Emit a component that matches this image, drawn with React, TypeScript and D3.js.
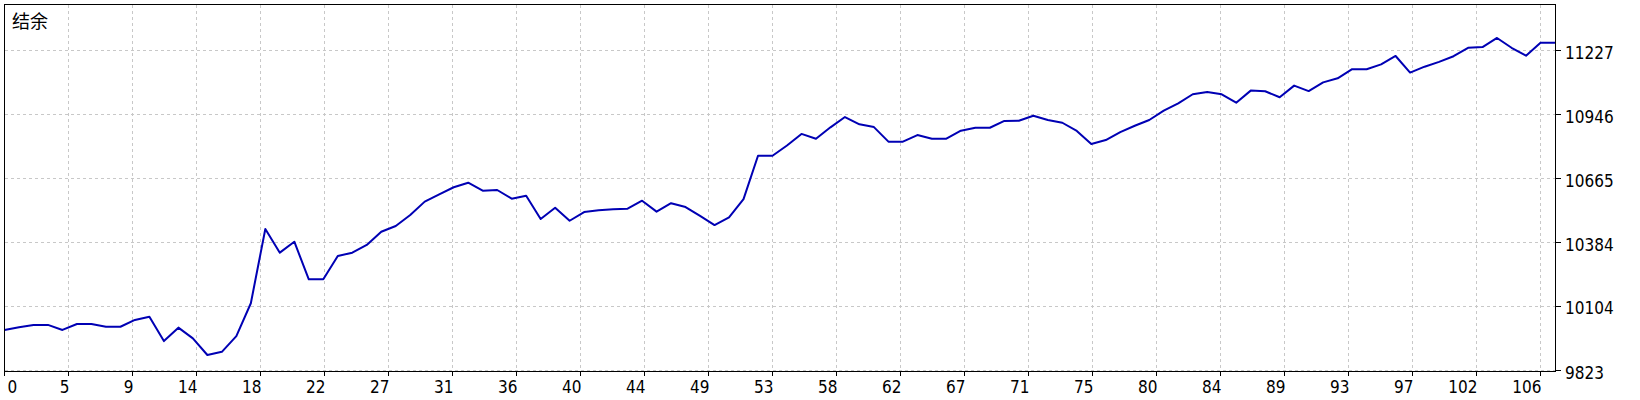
import React from "react";
import * as d3 from "d3";

// balance curve, one value per trade
const balance = [
  10001, 10013, 10023, 10023, 10001, 10027, 10027, 10015, 10015, 10045,
  10059, 9952, 10011, 9964, 9891, 9905, 9974, 10118, 10444, 10340,
  10388, 10223, 10223, 10325, 10340, 10374, 10432, 10457, 10505, 10564,
  10596, 10627, 10647, 10612, 10615, 10577, 10590, 10488, 10537, 10480,
  10518, 10526, 10530, 10533, 10568, 10520, 10557, 10540, 10501, 10461,
  10495, 10575, 10765, 10765, 10810, 10861, 10840, 10890, 10935, 10903,
  10891, 10827, 10827, 10856, 10840, 10840, 10875, 10888, 10888, 10918,
  10919, 10941, 10922, 10910, 10874, 10817, 10834, 10869, 10897, 10922,
  10963, 10995, 11035, 11045, 11035, 10998, 11051, 11048, 11022, 11073,
  11049, 11087, 11105, 11145, 11145, 11166, 11203, 11130, 11156, 11177,
  11202, 11239, 11242, 11282, 11239, 11204, 11261, 11261,
];

const xLabels = [0, 5, 9, 14, 18, 22, 27, 31, 36, 40, 44, 49, 53, 58, 62, 67, 71, 75, 80, 84, 89, 93, 97, 102, 106];
const yTicks = [9823, 10104, 10384, 10665, 10946, 11227];
const title = "结余";

const W = 1640;
const H = 400;
const left = 4.5;
const right = 1555.5;
const top = 4.5;
const bottom = 371.5;
const font = "'DejaVu Sans Condensed', 'DejaVu Sans', sans-serif";

export default function App() {
  const x = d3.scaleLinear().domain([0, balance.length - 1]).range([left, right - 0.5]);
  const y = d3.scaleLinear().domain([yTicks[0], yTicks[yTicks.length - 1]]).range([370.5, 50.5]);

  // vertical grid lines sit at evenly spaced fractional indices
  const step = xLabels[xLabels.length - 1] / (xLabels.length - 1);
  const gridX = xLabels.map((_, k) => Math.round(x(k * step) - 0.5) + 0.5);

  const line = d3.line<number>()
    .x((_, i) => x(i))
    .y(d => y(d));

  return (
    <svg width={W} height={H} style={{ position: "absolute", left: 0, top: 0, display: "block", background: "#fff" }}>
      <rect x={0} y={0} width={W} height={H} fill="#fff" />
      <g stroke="#c8c8c8" strokeWidth={1} strokeDasharray="3,3" shapeRendering="crispEdges">
        {gridX.map((gx, k) => (
          <line key={"gx" + k} x1={gx} x2={gx} y1={top} y2={bottom} />
        ))}
        {yTicks.map(t => {
          const gy = Math.round(y(t) - 0.5) + 0.5;
          return <line key={"gy" + t} x1={left} x2={right} y1={gy} y2={gy} />;
        })}
      </g>
      <path d={line(balance) || ""} fill="none" stroke="#0000b4" strokeWidth={2} strokeLinejoin="round" />
      <rect x={left} y={top} width={right - left} height={bottom - top} fill="none" stroke="#000" strokeWidth={1} shapeRendering="crispEdges" />
      <g stroke="#000" strokeWidth={1} shapeRendering="crispEdges">
        {gridX.map((gx, k) => (
          <line key={"tx" + k} x1={gx} x2={gx} y1={bottom} y2={bottom + 4} />
        ))}
        {yTicks.map(t => {
          const gy = Math.round(y(t) - 0.5) + 0.5;
          return <line key={"ty" + t} x1={right} x2={right + 5} y1={gy} y2={gy} />;
        })}
      </g>
      <g fontFamily={font} fontSize={17} fill="#000">
        {xLabels.map((lab, k) => (
          <text key={"lx" + k} x={k === 0 ? gridX[k] + 3 : gridX[k] + 1} y={393} textAnchor={k === 0 ? "start" : "end"}>
            {lab}
          </text>
        ))}
        {yTicks.map(t => (
          <text key={"ly" + t} x={1565} y={Math.round(y(t)) + 8} textAnchor="start">
            {t}
          </text>
        ))}
      </g>
      <text x={12} y={28} fontFamily="'Noto Sans CJK SC', sans-serif" fontSize={18} fill="#000">
        {title}
      </text>
    </svg>
  );
}
